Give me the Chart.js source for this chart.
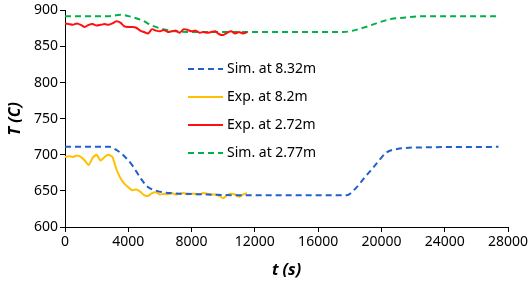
<!DOCTYPE html>
<html>
<head>
<meta charset="utf-8">
<script src="https://cdn.jsdelivr.net/npm/chart.js@4"></script>
<style>
  html, body { margin: 0; padding: 0; background: #fff; }
  #wrap { width: 532px; height: 282px; }
</style>
</head>
<body>
<div id="wrap"><canvas id="chart"></canvas></div>
<script>
// series labels
const seriesLabels = ['Sim. at 8.32m', 'Exp. at 8.2m', 'Exp. at 2.72m', 'Sim. at 2.77m'];

// simulated, 8.32 m
const simLowT = [0, 2800, 3300, 3800, 4300, 4800, 5200, 5800, 6600, 7500, 9000, 11000, 17800, 18300, 19000, 19700, 20300, 21000, 22000, 27400];
const simLowV = [711, 711, 706, 697, 684, 667, 656, 650, 647, 646, 645, 644, 644, 652, 670, 688, 703, 708, 710, 711];

// simulated, 2.77 m
const simHighT = [0, 2800, 3500, 4200, 4900, 5500, 6200, 7000, 8000, 17600, 18200, 19000, 19800, 20600, 21500, 22500, 27300];
const simHighV = [892, 892, 894, 891, 886, 879, 874, 871, 870, 870, 872, 877, 883, 888, 890, 892, 892];

// measured, sampled every 250 s
const expT = [0, 250, 500, 750, 1000, 1250, 1500, 1750, 2000, 2250, 2500, 2750, 3000, 3250, 3500, 3750,
  4000, 4250, 4500, 4750, 5000, 5250, 5500, 5750, 6000, 6250, 6500, 6750, 7000, 7250, 7500, 7750,
  8000, 8250, 8500, 8750, 9000, 9250, 9500, 9750, 10000, 10250, 10500, 10750, 11000, 11250, 11500];
const expLowV = [697, 698, 697, 699, 697, 692, 686, 696, 700, 692, 697, 700, 697, 680, 668, 660,
  655, 651, 652, 649, 644, 643, 647, 648, 645, 646, 645, 647, 645, 646, 647, 645,
  646, 646, 645, 647, 646, 645, 645, 643, 640, 644, 646, 645, 642, 645, 647];
const expHighV = [882, 881, 880, 882, 880, 877, 880, 881, 879, 880, 881, 880, 882, 885, 883, 878,
  877, 877, 876, 872, 870, 868, 874, 872, 871, 873, 870, 871, 872, 869, 874, 873,
  871, 872, 869, 870, 869, 870, 871, 867, 866, 869, 871, 868, 870, 868, 870];

// axis ticks
const xTicks = [0, 4000, 8000, 12000, 16000, 20000, 24000, 28000];
const yTicks = [600, 650, 700, 750, 800, 850, 900];

function pts(t, v) {
  return t.map((x, i) => ({ x: x, y: v[i] }));
}

const font = "'Noto Sans', 'Open Sans', sans-serif";

// legend drawn inside the plot area
const insideLegend = {
  id: 'insideLegend',
  afterDraw(chart) {
    const ctx = chart.ctx;
    const x0 = 188, x1 = 223, ys = [69, 97, 125, 153];
    ctx.save();
    chart.data.datasets.forEach((ds, i) => {
      const y = ys[i];
      ctx.beginPath();
      ctx.strokeStyle = ds.borderColor;
      ctx.lineWidth = ds.borderWidth;
      ctx.setLineDash(ds.borderDash || []);
      ctx.moveTo(x0, y);
      ctx.lineTo(x1, y);
      ctx.stroke();
      ctx.setLineDash([]);
      ctx.fillStyle = '#000';
      ctx.font = '14px ' + font;
      ctx.textBaseline = 'middle';
      ctx.fillText(ds.label, x1 + 4, y);
    });
    ctx.restore();
  }
};

new Chart(document.getElementById('chart'), {
  type: 'line',
  data: {
    datasets: [
      {
        label: seriesLabels[0],
        data: pts(simLowT, simLowV),
        borderColor: '#2160C9',
        borderWidth: 2,
        borderDash: [6, 4],
        cubicInterpolationMode: 'monotone',
        pointRadius: 0,
        order: 2
      },
      {
        label: seriesLabels[1],
        data: pts(expT, expLowV),
        borderColor: '#FFC000',
        borderWidth: 2,
        tension: 0.2,
        pointRadius: 0,
        order: 3
      },
      {
        label: seriesLabels[2],
        data: pts(expT, expHighV),
        borderColor: '#FF1010',
        borderWidth: 2,
        tension: 0.2,
        pointRadius: 0,
        order: 1
      },
      {
        label: seriesLabels[3],
        data: pts(simHighT, simHighV),
        borderColor: '#00B04A',
        borderWidth: 2,
        borderDash: [6, 4],
        cubicInterpolationMode: 'monotone',
        pointRadius: 0,
        order: 4
      }
    ]
  },
  options: {
    responsive: true,
    maintainAspectRatio: false,
    animation: false,
    layout: { padding: { left: 6, right: 24, top: 8, bottom: 2 } },
    plugins: {
      legend: { display: false },
      tooltip: { enabled: false }
    },
    scales: {
      x: {
        type: 'linear',
        min: 0,
        max: 28000,
        afterBuildTicks(scale) { scale.ticks = xTicks.map(v => ({ value: v })); },
        afterFit(scale) { scale.height = 53; },
        grid: { drawOnChartArea: false, drawTicks: true, tickLength: 5, color: '#000' },
        border: { color: '#000', width: 1 },
        ticks: {
          color: '#000',
          font: { family: font, size: 14 },
          padding: 2,
          maxRotation: 0,
          callback: v => String(v)
        },
        title: {
          display: true,
          text: 't (s)',
          color: '#000',
          font: { family: font, size: 16, weight: 'bold', style: 'italic' },
          padding: { top: 0, bottom: 0 }
        }
      },
      y: {
        min: 600,
        max: 900,
        afterBuildTicks(scale) { scale.ticks = yTicks.map(v => ({ value: v })); },
        afterFit(scale) { scale.width = 59; },
        grid: { drawOnChartArea: false, drawTicks: true, tickLength: 5, color: '#000' },
        border: { color: '#000', width: 1 },
        ticks: { color: '#000', font: { family: font, size: 14 }, padding: 2 },
        title: {
          display: true,
          text: 'T (C)',
          color: '#000',
          font: { family: font, size: 16, weight: 'bold', style: 'italic' },
          padding: { top: 0, bottom: 0 }
        }
      }
    }
  },
  plugins: [insideLegend]
});
</script>
</body>
</html>
